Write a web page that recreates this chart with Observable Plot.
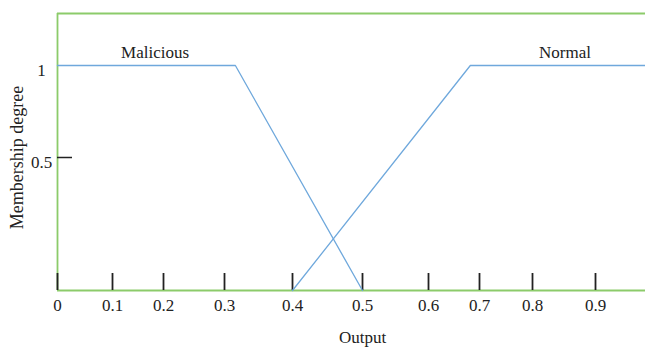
<!DOCTYPE html>
<html>
<head>
<meta charset="utf-8">
<script src="https://cdn.jsdelivr.net/npm/d3@7"></script>
<script src="https://cdn.jsdelivr.net/npm/@observablehq/plot@0.6"></script>
<style>
  html, body { margin: 0; padding: 0; background: #fff; }
  svg { display: block; }
  #chart g[aria-label$="tick label"], #chart g[aria-label$="tick label"] text { font-size: 17px; }
</style>
</head>
<body>
<div id="chart"></div>
<script>
// ---- data ----
const xTicks = [0, 0.1, 0.2, 0.3, 0.4, 0.5, 0.6, 0.7, 0.8, 0.9];
const xTickLabels = ["0", "0.1", "0.2", "0.3", "0.4", "0.5", "0.6", "0.7", "0.8", "0.9"];
const yTicks = [0.5, 1];
const yTickLabels = ["0.5", "1"];
const xMax = 0.98;
const yMax = 1.28;
const seriesNames = ["Malicious", "Normal"];
const maliciousX = [0, 0.316, 0.5];
const maliciousY = [1, 1, 0];
const normalX = [0.4, 0.682, xMax];
const normalY = [0, 1, 1];
const xTitle = "Output";
const yTitle = "Membership degree";

// ---- build table ----
const rows = [
  ...maliciousX.map((x, i) => ({series: seriesNames[0], x, y: maliciousY[i]})),
  ...normalX.map((x, i) => ({series: seriesNames[1], x, y: normalY[i]}))
];
const labels = [
  {name: seriesNames[0], x: (maliciousX[0] + maliciousX[1]) / 2, y: 1},
  {name: seriesNames[1], x: (normalX[1] + normalX[2]) / 2, y: 1}
];

// the original axes are unevenly spaced: piecewise-linear warps
const xWarp = d3.scaleLinear().domain([...xTicks, xMax]).range([0, 55, 106, 167, 235, 305, 371, 422, 475, 538, 588]);
const yWarp = d3.scaleLinear().domain([0, 0.5, 1, yMax]).range([0, 133, 225, 277]);

const font = "'Liberation Serif', 'Times New Roman', serif";
const green = "#8ccb6a";
const blue = "#6fa8dc";

const chart = Plot.plot({
  width: 645,
  height: 350,
  marginTop: 13,
  marginLeft: 57,
  marginRight: 0,
  marginBottom: 60,
  style: {fontFamily: font, fontSize: "17px", color: "#222", background: "#fff"},
  x: {transform: xWarp, domain: [0, 588], nice: false},
  y: {transform: yWarp, domain: [0, 277], nice: false},
  marks: [
    // frame (green)
    Plot.ruleY([0, yMax], {stroke: green, strokeWidth: 1.8}),
    Plot.ruleX([0], {stroke: green, strokeWidth: 1.8}),
    // x ticks pointing inward (axis ticks live in warped space)
    Plot.axisX({ticks: xTicks.map(xWarp), tickSize: -17, tickFormat: () => "", label: null, stroke: "#222", strokeWidth: 1.8}),
    // x tick labels
    Plot.axisX({ticks: xTicks.map(xWarp), tickSize: 0, tickPadding: 8, tickFormat: (d, i) => xTickLabels[i], label: null, fontSize: 17}),
    // y tick at 0.5 pointing inward
    Plot.axisY({ticks: [yWarp(yTicks[0])], tickSize: -15, tickFormat: () => "", label: null, stroke: "#222", strokeWidth: 1.5}),
    // y tick labels
    Plot.axisY({ticks: yTicks.map(yWarp), tickSize: 0, tickPadding: 16, textAnchor: "middle", dy: 5, tickFormat: (d, i) => yTickLabels[i], label: null, fontSize: 17}),
    // membership lines
    Plot.line(rows, {x: "x", y: "y", z: "series", stroke: blue, strokeWidth: 1.3}),
    // series labels
    Plot.text(labels, {x: "x", y: "y", text: "name", dx: 13, dy: -13, fontSize: 17, fill: "#222"}),
    // axis titles
    Plot.text([xTitle], {x: xTicks[5], frameAnchor: "bottom", dy: 52, fontSize: 17, fill: "#222"}),
    Plot.text([yTitle], {y: yTicks[0], frameAnchor: "left", textAnchor: "middle", dx: -40, rotate: -90, fontSize: 18, fill: "#222"})
  ]
});

document.getElementById("chart").append(chart);
</script>
</body>
</html>
